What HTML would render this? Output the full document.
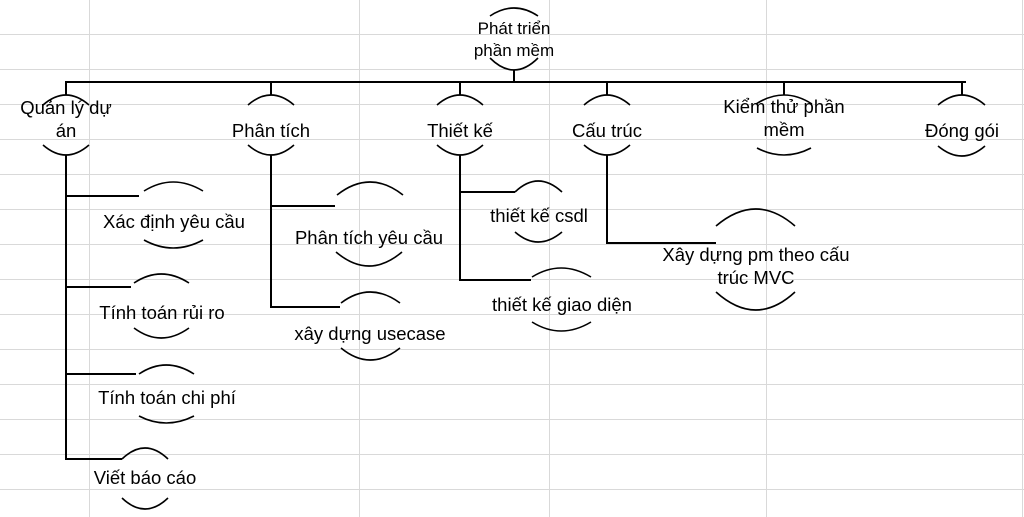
<!DOCTYPE html>
<html><head><meta charset="utf-8"><style>
html,body{margin:0;padding:0;background:#fff;}
svg{display:block;}
text{font-family:"Liberation Sans","DejaVu Sans",sans-serif;font-size:18.5px;fill:#000;text-anchor:middle;}
</style></head><body>
<svg width="1024" height="517" viewBox="0 0 1024 517" xmlns="http://www.w3.org/2000/svg">
<g stroke="#d9d9d9" stroke-width="1">
<line x1="0" y1="34.5" x2="1024" y2="34.5"/><line x1="0" y1="69.5" x2="1024" y2="69.5"/>
<line x1="0" y1="104.5" x2="1024" y2="104.5"/><line x1="0" y1="139.5" x2="1024" y2="139.5"/>
<line x1="0" y1="174.5" x2="1024" y2="174.5"/><line x1="0" y1="209.5" x2="1024" y2="209.5"/>
<line x1="0" y1="244.5" x2="1024" y2="244.5"/><line x1="0" y1="279.5" x2="1024" y2="279.5"/>
<line x1="0" y1="314.5" x2="1024" y2="314.5"/><line x1="0" y1="349.5" x2="1024" y2="349.5"/>
<line x1="0" y1="384.5" x2="1024" y2="384.5"/><line x1="0" y1="419.5" x2="1024" y2="419.5"/>
<line x1="0" y1="454.5" x2="1024" y2="454.5"/><line x1="0" y1="489.5" x2="1024" y2="489.5"/>
<line x1="89.5" y1="0" x2="89.5" y2="517"/><line x1="359.5" y1="0" x2="359.5" y2="517"/>
<line x1="549.5" y1="0" x2="549.5" y2="517"/><line x1="766.5" y1="0" x2="766.5" y2="517"/>
<line x1="1022.5" y1="0" x2="1022.5" y2="517"/>
</g>
<g stroke="#000" stroke-width="2" fill="none">
<line x1="514" y1="70" x2="514" y2="82"/>
<line x1="65" y1="82" x2="966" y2="82"/>
<line x1="66" y1="82" x2="66" y2="95"/><line x1="271" y1="82" x2="271" y2="95"/>
<line x1="460" y1="82" x2="460" y2="95"/><line x1="607" y1="82" x2="607" y2="95"/>
<line x1="784" y1="82" x2="784" y2="95"/><line x1="962" y1="82" x2="962" y2="95"/>
<path d="M66 155 V459 H122 M66 196 H139 M66 287 H131 M66 374 H136"/>
<path d="M271 155 V307 H340 M271 206 H335"/>
<path d="M460 155 V280 H531 M460 192 H515"/>
<path d="M607 155 V243 H716"/>
</g>
<g stroke="#000" stroke-width="1.6" fill="none">
<path d="M490 16 Q514 0 538 16"/><path d="M490 58 Q514 82 538 58"/>
<path d="M43 105 Q66 85 89 105"/><path d="M43 145 Q66 165 89 145"/>
<path d="M248 105 Q271 85 294 105"/><path d="M248 145 Q271 165 294 145"/>
<path d="M437 105 Q460 85 483 105"/><path d="M437 145 Q460 165 483 145"/>
<path d="M584 105 Q607 85 630 105"/><path d="M584 145 Q607 165 630 145"/>
<path d="M756 104 Q784 86 812 104"/><path d="M757 148 Q784 162 811 148"/>
<path d="M938 105 Q962 85 985 105"/><path d="M938 146 Q962 166 985 146"/>
<path d="M144 191 Q173 173 203 191"/><path d="M144 240 Q173 256 203 240"/>
<path d="M134 283 Q161 265 189 283"/><path d="M134 328 Q161 348 189 328"/>
<path d="M139 374 Q166 356 194 374"/><path d="M139 416 Q166 430 194 416"/>
<path d="M122 459 Q145 437 168 459"/><path d="M122 498 Q145 520 168 498"/>
<path d="M337 195 Q370 169 403 195"/><path d="M336 252 Q369 280 402 252"/>
<path d="M341 303 Q370 281 400 303"/><path d="M341 348 Q370 372 400 348"/>
<path d="M515 192 Q538 170 562 192"/><path d="M515 232 Q538 252 562 232"/>
<path d="M532 277 Q561 259 591 277"/><path d="M532 322 Q561 340 591 322"/>
<path d="M716 226 Q756 192 795 226"/><path d="M716 292 Q756 328 795 292"/>
</g>
<text x="514" y="34" style="font-size:17px">Phát triển</text>
<text x="514" y="56" style="font-size:17px">phần mềm</text>
<text x="66" y="114">Quản lý dự</text><text x="66" y="137">án</text>
<text x="271" y="137">Phân tích</text>
<text x="460" y="137">Thiết kế</text>
<text x="607" y="137">Cấu trúc</text>
<text x="784" y="113">Kiểm thử phần</text><text x="784" y="136">mềm</text>
<text x="962" y="137">Đóng gói</text>
<text x="174" y="228">Xác định yêu cầu</text>
<text x="162" y="319">Tính toán rủi ro</text>
<text x="167" y="404">Tính toán chi phí</text>
<text x="145" y="484">Viết báo cáo</text>
<text x="369" y="244">Phân tích yêu cầu</text>
<text x="370" y="340">xây dựng usecase</text>
<text x="539" y="222">thiết kế csdl</text>
<text x="562" y="311">thiết kế giao diện</text>
<text x="756" y="261">Xây dựng pm theo cấu</text>
<text x="756" y="284">trúc MVC</text>
</svg>
</body></html>
